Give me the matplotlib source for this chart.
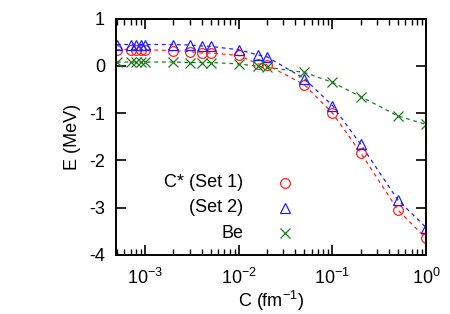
import matplotlib
matplotlib.use('Agg')
import matplotlib.pyplot as plt
from matplotlib.ticker import LogLocator, NullFormatter

plt.rcParams['font.family'] = ['Liberation Sans', 'DejaVu Sans']
plt.rcParams['mathtext.fontset'] = 'custom'
plt.rcParams['mathtext.rm'] = 'Liberation Sans'

c_values = [5e-4, 7e-4, 8e-4, 9e-4, 1e-3, 2e-3, 3e-3, 4e-3, 5e-3,
            1e-2, 1.6e-2, 2e-2, 5e-2, 1e-1, 2e-1, 5e-1, 1.0]
e_set1 = [0.34, 0.34, 0.34, 0.34, 0.34, 0.32, 0.30, 0.27, 0.27,
          0.22, 0.04, 0.02, -0.40, -1.00, -1.84, -3.05, -3.65]
e_set2 = [0.45, 0.45, 0.45, 0.45, 0.45, 0.45, 0.44, 0.42, 0.41,
          0.34, 0.23, 0.19, -0.27, -0.84, -1.66, -2.84, -3.42]
e_be = [0.08, 0.08, 0.08, 0.08, 0.08, 0.08, 0.07, 0.07, 0.07,
        0.04, -0.01, -0.03, -0.14, -0.35, -0.65, -1.06, -1.24]

labels = ['C* (Set 1)', '(Set 2)', 'Be']
colors = ['#ff2020', '#2020ff', '#1f7a1f']
markers = ['o', '^', 'x']

FS = 13


def main():
    fig = plt.figure(figsize=(4.5, 3.14), dpi=100)
    ax = fig.add_axes([0.258, 0.188, 0.689, 0.753])
    for series, color, marker in zip([e_set1, e_set2, e_be], colors, markers):
        ax.plot(c_values, series, linestyle=(0, (3, 3)), color=color, linewidth=0.9)
        ax.plot(c_values, series, linestyle='none', marker=marker, markersize=7,
                markerfacecolor='none', markeredgecolor=color, markeredgewidth=0.9)

    # key: right-aligned text with the sample marker on its right (gnuplot style)
    text_x, mark_x = 0.411, 0.545
    rows = [0.305, 0.2, 0.092]
    for label, color, marker, ry in zip(labels, colors, markers, rows):
        ax.text(text_x, ry, label, transform=ax.transAxes, ha='right', va='center',
                fontsize=FS)
        ax.plot([mark_x], [ry], transform=ax.transAxes, linestyle='none',
                marker=marker, markersize=7, markerfacecolor='none',
                markeredgecolor=color, markeredgewidth=0.9, clip_on=False)

    ax.set_xscale('log')
    ax.set_xlim(4.9e-4, 1.0)
    ax.set_ylim(-4, 1)
    ax.set_yticks([-4, -3, -2, -1, 0, 1])
    ax.set_yticklabels(['-4', '-3', '-2', '-1', '0', '1'])
    ax.xaxis.set_major_locator(LogLocator(base=10, numticks=10))
    ax.xaxis.set_minor_locator(LogLocator(base=10, subs=range(2, 10), numticks=10))
    ax.xaxis.set_minor_formatter(NullFormatter())
    ax.tick_params(which='both', direction='in', top=True, right=True, labelsize=FS)
    ax.tick_params(which='major', length=7, width=1.2)
    ax.tick_params(which='minor', length=4, width=1.0)
    ax.tick_params(axis='x', pad=9)
    ax.tick_params(axis='y', pad=8)
    for spine in ax.spines.values():
        spine.set_linewidth(1.4)

    ax.set_xlabel('C (fm$^{-1}$)', fontsize=FS, labelpad=1)
    ax.set_ylabel('E (MeV)', fontsize=FS, labelpad=6)

    fig.savefig('out.png', dpi=100)


if __name__ == '__main__':
    main()
